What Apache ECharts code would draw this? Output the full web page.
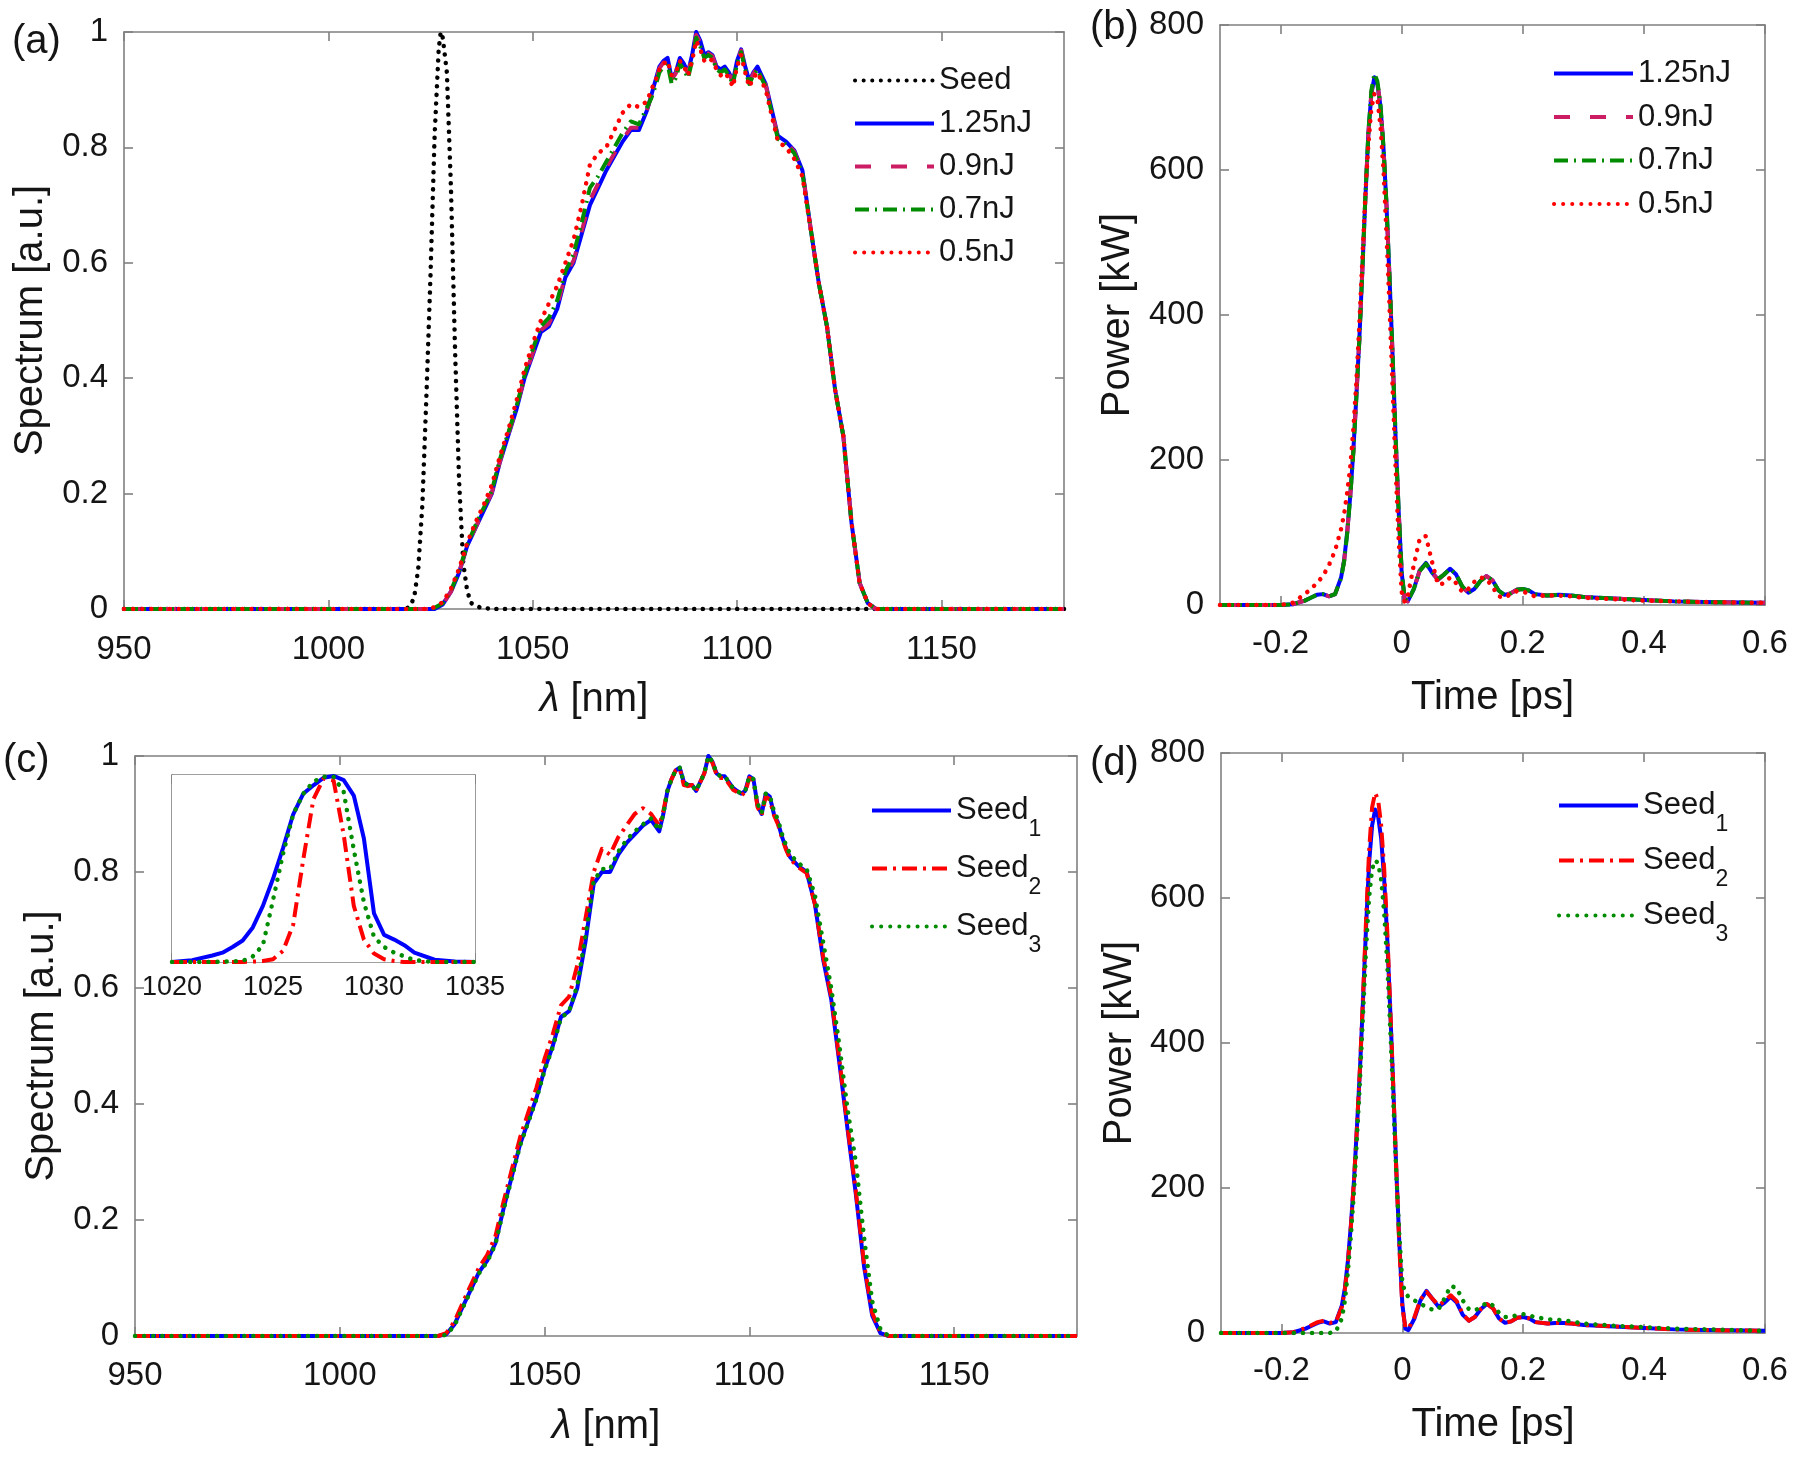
<!DOCTYPE html>
<html><head><meta charset="utf-8">
<script src="https://cdn.jsdelivr.net/npm/echarts@6.0.0/dist/echarts.min.js"></script>
<style>html,body{margin:0;padding:0;background:#fff}#c{width:1800px;height:1457px}</style>
</head><body><div id="c"></div>
<script>
// ---------- DATA ----------
// shared wavelength grid (nm) for panels (a) and (c)
const wl = [950,1000,1024,1026,1028,1030,1032,1034,1036,1038,1040,1042,1044,1046,1048,1050,1052,1054,1056,1058,1060,1062,1064,1066,1068,1070,1072,1074,1076,1078,
  1079,1080,1081,1082,1083,1084,1085,1086,1087,1088,1089,1090,1091,1092,1093,1094,1095,1096,1097,1098,1099,1100,1101,1102,1103,1104,1105,1106,1107,1108,1109,1110,
  1112,1114,1116,1118,1120,1122,1124,1126,1128,1130,1132,1134,1136,1180];
// (a) spectra
const specA125 = [0,0,0,0,0.008,0.03,0.063,0.11,0.14,0.17,0.2,0.255,0.3,0.345,0.4,0.44,0.48,0.49,0.52,0.575,0.6,0.65,0.7,0.73,0.76,0.785,0.81,0.83,0.83,0.865,
  0.89,0.915,0.94,0.95,0.955,0.92,0.93,0.955,0.945,0.93,0.96,1.0,0.985,0.96,0.965,0.96,0.94,0.935,0.94,0.93,0.915,0.95,0.97,0.94,0.915,0.93,0.94,0.925,0.91,0.88,0.85,0.82,
  0.81,0.795,0.76,0.66,0.565,0.49,0.38,0.3,0.15,0.045,0.01,0,0,0];
const specA09 = [0,0,0,0,0.008,0.03,0.064,0.11,0.141,0.171,0.202,0.256,0.302,0.347,0.402,0.443,0.483,0.495,0.525,0.578,0.604,0.655,0.708,0.737,0.765,0.79,0.814,0.834,0.834,0.866,
  0.888,0.912,0.937,0.947,0.952,0.918,0.928,0.952,0.943,0.928,0.957,0.995,0.982,0.958,0.963,0.958,0.938,0.933,0.938,0.928,0.913,0.948,0.968,0.938,0.913,0.928,0.938,0.922,0.908,0.878,0.848,0.818,
  0.808,0.793,0.758,0.66,0.565,0.49,0.38,0.3,0.15,0.045,0.01,0,0,0];
const specA07 = [0,0,0,0.002,0.01,0.032,0.066,0.112,0.145,0.175,0.205,0.26,0.305,0.35,0.405,0.45,0.49,0.505,0.535,0.585,0.615,0.67,0.73,0.75,0.775,0.8,0.825,0.845,0.84,0.87,
  0.885,0.905,0.93,0.94,0.945,0.91,0.92,0.945,0.935,0.92,0.95,0.99,0.975,0.955,0.96,0.955,0.935,0.93,0.935,0.925,0.91,0.945,0.965,0.935,0.91,0.925,0.935,0.92,0.905,0.875,0.845,0.815,
  0.805,0.79,0.755,0.66,0.565,0.49,0.38,0.3,0.15,0.045,0.01,0,0,0];
const specA05 = [0,0,0,0.003,0.012,0.035,0.07,0.115,0.15,0.18,0.215,0.265,0.31,0.36,0.415,0.46,0.5,0.53,0.56,0.6,0.64,0.7,0.77,0.79,0.8,0.83,0.86,0.875,0.87,0.88,
  0.9,0.915,0.935,0.945,0.95,0.925,0.93,0.95,0.94,0.925,0.95,0.985,0.97,0.95,0.955,0.95,0.935,0.925,0.93,0.92,0.905,0.94,0.96,0.93,0.905,0.92,0.93,0.915,0.9,0.87,0.84,0.81,
  0.8,0.78,0.75,0.66,0.565,0.49,0.38,0.3,0.15,0.045,0.01,0,0,0];
// (a) seed spectrum
const seedWl = [950,1015,1019,1020,1021,1022,1023,1024,1025,1026,1027,1027.5,1028,1029,1030,1031,1032,1033,1034,1035,1037,1040,1180];
const seedA  = [0,0,0,0.005,0.02,0.07,0.18,0.37,0.58,0.82,0.97,1.0,0.99,0.93,0.73,0.45,0.22,0.08,0.03,0.01,0.003,0,0];
// (c) spectra
const specC1 = [0,0,0,0.003,0.02,0.05,0.08,0.11,0.13,0.16,0.22,0.275,0.33,0.37,0.41,0.46,0.5,0.55,0.56,0.6,0.68,0.78,0.8,0.8,0.83,0.85,0.865,0.88,0.89,0.87,
  0.9,0.94,0.96,0.975,0.98,0.955,0.95,0.95,0.94,0.955,0.97,1.0,0.99,0.97,0.965,0.965,0.955,0.945,0.94,0.935,0.94,0.965,0.96,0.915,0.9,0.935,0.93,0.9,0.885,0.86,0.84,0.825,
  0.81,0.8,0.745,0.65,0.58,0.47,0.355,0.245,0.12,0.035,0.005,0,0,0];
const specC2 = [0,0,0,0.005,0.025,0.057,0.088,0.118,0.14,0.172,0.232,0.287,0.342,0.385,0.428,0.478,0.52,0.57,0.585,0.64,0.72,0.8,0.84,0.83,0.86,0.88,0.9,0.91,0.9,0.88,
  0.905,0.94,0.96,0.975,0.978,0.95,0.948,0.95,0.94,0.955,0.97,0.998,0.988,0.968,0.962,0.962,0.952,0.942,0.938,0.932,0.938,0.962,0.958,0.912,0.898,0.93,0.925,0.898,0.882,0.858,0.838,0.822,
  0.808,0.798,0.745,0.655,0.585,0.475,0.36,0.25,0.125,0.04,0.006,0,0,0];
const specC3 = [0,0,0,0.002,0.018,0.048,0.078,0.108,0.128,0.158,0.218,0.272,0.328,0.368,0.408,0.458,0.498,0.548,0.56,0.605,0.69,0.785,0.805,0.805,0.835,0.855,0.87,0.882,0.892,0.872,
  0.9,0.94,0.96,0.975,0.98,0.955,0.95,0.95,0.94,0.955,0.97,1.0,0.99,0.97,0.965,0.965,0.955,0.945,0.94,0.935,0.94,0.965,0.96,0.918,0.902,0.935,0.932,0.905,0.89,0.865,0.845,0.83,
  0.815,0.805,0.76,0.68,0.6,0.5,0.39,0.3,0.17,0.06,0.012,0,0,0];
// inset (c): seed spectra
const insWl = [1020,1021,1022,1022.5,1023,1023.5,1024,1024.5,1025,1025.5,1026,1026.5,1027,1027.5,1028,1028.5,1029,1029.5,1030,1030.5,1031,1031.5,1032,1033,1034,1035];
const insS1 = [0,0.01,0.035,0.05,0.08,0.115,0.185,0.3,0.445,0.61,0.79,0.9,0.945,0.985,0.995,0.973,0.89,0.66,0.26,0.145,0.12,0.09,0.05,0.012,0.003,0];
const insS2 = [0,0,0,0,0,0,0.002,0.005,0.015,0.06,0.2,0.55,0.87,0.98,0.97,0.68,0.3,0.12,0.045,0.015,0.005,0,0,0,0,0];
const insS3 = [0,0,0,0.002,0.003,0.006,0.03,0.09,0.33,0.58,0.79,0.9,0.964,0.99,0.99,0.91,0.6,0.32,0.134,0.08,0.05,0.03,0.01,0,0,0];
// time grid (ps) for panels (b) and (d)
const tps = [-0.3,-0.2,-0.18,-0.16,-0.15,-0.14,-0.13,-0.12,-0.11,-0.1,-0.095,-0.09,-0.085,-0.08,-0.075,-0.07,-0.065,-0.06,-0.055,-0.05,-0.045,-0.04,-0.035,-0.03,-0.025,-0.02,-0.015,-0.01,-0.005,0,
  0.005,0.01,0.02,0.03,0.04,0.05,0.06,0.07,0.08,0.09,0.1,0.11,0.12,0.13,0.14,0.15,0.16,0.17,0.18,0.19,0.2,0.21,0.22,0.24,0.26,0.28,0.3,0.35,0.4,0.45,0.5,0.6];
const powB125 = [0,0,1,6,10,14,15,12,15,38,62,100,150,210,285,365,460,560,650,705,728,718,688,630,550,450,345,230,130,45,8,5,22,48,58,45,35,42,50,42,25,17,22,33,40,34,20,14,16,21,22,20,15,13,14,13,11,9,7,5,4,3];
const powB09  = [0,0,1,6,10,14,15,12,15,38,61,99,149,209,284,364,460,561,651,707,730,720,689,631,551,451,346,231,131,46,8,5,22,48,58,45,35,42,50,42,25,17,22,33,40,34,20,14,16,21,22,20,15,13,14,13,11,9,7,5,4,3];
const powB07  = [0,0,1,6,10,14,15,12,15,37,60,98,148,208,283,364,460,562,652,710,733,722,690,632,552,452,347,232,132,47,9,5,22,47,57,46,36,42,50,42,26,17,22,33,40,34,20,14,16,21,22,20,15,13,14,13,11,9,7,5,4,3];
const powB05  = [0,0,3,15,22,30,40,55,75,105,125,155,190,240,305,385,475,565,635,685,705,698,660,600,510,410,300,190,90,18,4,12,55,92,95,60,28,30,38,30,18,22,32,38,36,25,12,10,15,19,19,15,12,13,13,12,10,8,6,5,4,3];
const powD1 = [0,0,1,6,10,14,16,13,15,38,62,100,150,210,285,365,460,560,648,700,722,712,682,625,545,445,340,225,125,40,6,4,20,45,58,47,36,42,50,42,25,17,22,33,40,34,20,14,16,21,22,20,15,13,14,13,11,9,7,5,4,3];
const powD2 = [0,0,1,7,11,15,17,14,15,36,60,98,148,210,285,368,465,570,665,725,745,735,700,640,555,450,340,225,120,35,8,6,22,46,57,47,38,44,52,44,26,17,22,33,40,34,20,14,16,21,22,20,15,13,14,13,11,9,7,5,4,3];
const powD3 = [0,0,0,0,0,0,0,0,2,20,45,85,135,195,270,350,440,530,600,640,652,648,625,580,510,420,320,220,135,70,55,50,45,40,36,32,33,48,65,62,45,33,31,36,42,38,28,22,22,25,26,24,22,19,18,16,13,10,8,6,5,3];
// tick values
const ticksWl = [950,1000,1050,1100,1150];
const ticksSpec = [0,0.2,0.4,0.6,0.8,1];
const ticksT = [-0.2,0,0.2,0.4,0.6];
const ticksP = [0,200,400,600,800];
const ticksIns = [1020,1025,1030,1035];

// ---------- STYLE ----------
const FONT = '"Liberation Sans", Arial, Helvetica, sans-serif';
const AX = '#808080', TXT = '#151515';
const zip = (xs, ys) => xs.map((x, i) => [x, ys[i]]);
const plain = v => String(v);

const grids = [
  {left:124, top:32, width:940, height:577},   // a
  {left:1220, top:25, width:545, height:580},  // b
  {left:135, top:756, width:942, height:580},  // c
  {left:1221, top:753, width:544, height:580}, // d
  {left:172, top:775, width:303, height:187, show:true, backgroundColor:'#fff', borderWidth:0, z:5} // inset
].map(g => Object.assign({outerBoundsMode:'none', containLabel:false}, g));

function xAxes(gi, min, max, ticks, name, nameGap, labelSize, labelMargin, richName) {
  const base = {type:'value', gridIndex:gi, min, max, splitLine:{show:false},
    axisLine:{show:true, onZero:false, lineStyle:{color:AX, width:1.6}},
    axisTick:{show:true, inside:true, length:9, customValues:ticks, lineStyle:{color:AX, width:1.6}}};
  const bottom = Object.assign({}, base, {position:'bottom',
    axisLabel:{show:true, customValues:ticks, formatter:plain, margin:labelMargin, fontSize:labelSize, color:TXT, fontFamily:FONT},
    name:name, nameLocation:'middle', nameGap:nameGap,
    nameTextStyle:{fontSize:40, color:TXT, fontFamily:FONT, rich:richName || {}}});
  const top = Object.assign({}, base, {position:'top', axisLabel:{show:false}});
  return [bottom, top];
}
function yAxes(gi, min, max, ticks, name, nameGap, showTicks) {
  const base = {type:'value', gridIndex:gi, min, max, splitLine:{show:false},
    axisLine:{show:true, onZero:false, lineStyle:{color:AX, width:1.6}},
    axisTick:{show:showTicks, inside:true, length:9, customValues:ticks, lineStyle:{color:AX, width:1.6}}};
  const left = Object.assign({}, base, {position:'left',
    axisLabel:{show:!!name, customValues:ticks, formatter:plain, margin:16, fontSize:33, color:TXT, fontFamily:FONT},
    name:name || '', nameLocation:'middle', nameGap:nameGap,
    nameTextStyle:{fontSize:40, color:TXT, fontFamily:FONT}});
  const right = Object.assign({}, base, {position:'right', axisLabel:{show:false}});
  return [left, right];
}
const lamRich = {i:{fontStyle:'italic', fontSize:40, color:TXT, fontFamily:FONT}};
const xAxis = [
  ...xAxes(0, 950, 1180, ticksWl, '{i|λ} [nm]', 71, 33, 24, lamRich),
  ...xAxes(1, -0.3, 0.6, ticksT, 'Time [ps]', 73, 33, 22),
  ...xAxes(2, 950, 1180, ticksWl, '{i|λ} [nm]', 71, 33, 23, lamRich),
  ...xAxes(3, -0.3, 0.6, ticksT, 'Time [ps]', 72, 33, 21),
  ...xAxes(4, 1020, 1035, ticksIns, '', 0, 27, 12)
];
const yAxis = [
  ...yAxes(0, 0, 1, ticksSpec, 'Spectrum [a.u.]', 69, true),
  ...yAxes(1, 0, 800, ticksP, 'Power [kW]', 82, true),
  ...yAxes(2, 0, 1, ticksSpec, 'Spectrum [a.u.]', 72, true),
  ...yAxes(3, 0, 800, ticksP, 'Power [kW]', 81, true),
  ...yAxes(4, 0, 1, [], '', 0, false)
];

const ST = {
  blue:  {color:'#0000ff', width:4, type:'solid'},
  pink:  {color:'#cc1c63', width:4, type:[16,20]},
  greenDD: {color:'#008c00', width:4, type:[14,6,2,6]},
  redDot: {color:'#ff0000', width:4.5, type:[0.1,9], cap:'round'},
  blackDot: {color:'#000000', width:4.5, type:[0.1,8.5], cap:'round'},
  redDD: {color:'#ff0000', width:4, type:[15,6,3,6]},
  greenDot: {color:'#008c00', width:4.5, type:[0.1,9], cap:'round'}
};
function ln(name, gi, xs, ys, st, z) {
  return {type:'line', name, xAxisIndex:gi*2, yAxisIndex:gi*2, data:zip(xs, ys),
    symbol:'none', showSymbol:false, silent:true, z:z || 2,
    lineStyle:Object.assign({join:'round'}, st), itemStyle:{color:st.color}};
}
const series = [
  ln('Seed', 0, seedWl, seedA, ST.blackDot, 2),
  ln('1.25nJ', 0, wl, specA125, ST.blue, 3),
  ln('0.9nJ', 0, wl, specA09, ST.pink, 4),
  ln('0.7nJ', 0, wl, specA07, ST.greenDD, 5),
  ln('0.5nJ', 0, wl, specA05, ST.redDot, 6),
  ln('1.25nJ', 1, tps, powB125, ST.blue, 3),
  ln('0.9nJ', 1, tps, powB09, ST.pink, 4),
  ln('0.7nJ', 1, tps, powB07, ST.greenDD, 5),
  ln('0.5nJ', 1, tps, powB05, ST.redDot, 6),
  ln('Seed1', 2, wl, specC1, ST.blue, 3),
  ln('Seed2', 2, wl, specC2, ST.redDD, 4),
  ln('Seed3', 2, wl, specC3, ST.greenDot, 5),
  ln('Seed1', 3, tps, powD1, ST.blue, 3),
  ln('Seed2', 3, tps, powD2, ST.redDD, 4),
  ln('Seed3', 3, tps, powD3, ST.greenDot, 5),
  ln('Seed1', 4, insWl, insS1, ST.blue, 7),
  ln('Seed2', 4, insWl, insS2, ST.redDD, 8),
  ln('Seed3', 4, insWl, insS3, ST.greenDot, 9)
];

const legText = {fontSize:31, color:TXT, fontFamily:FONT};
const subRich = {
  n:{fontSize:31, color:TXT, fontFamily:FONT, verticalAlign:'middle'},
  s:{fontSize:23, color:TXT, fontFamily:FONT, verticalAlign:'middle', padding:[38,0,0,0]}
};
function legend(names, left, top, gap, sub) {
  return {show:true, orient:'vertical', left, top, padding:0, itemGap:gap, itemWidth:79, itemHeight:14,
    selectedMode:false, data:names,
    lineStyle:{width:4, opacity:1},
    itemStyle:{opacity:0, color:'rgba(0,0,0,0)', borderWidth:0},
    textStyle: sub ? Object.assign({}, legText, {rich:subRich}) : legText,
    formatter: sub ? (n => '{n|Seed}{s|' + n.slice(4) + '}') : (n => n)};
}
const legends = [
  legend(['Seed','1.25nJ','0.9nJ','0.7nJ','0.5nJ'], 853, 65, 12, false),
  legend(['1.25nJ','0.9nJ','0.7nJ','0.5nJ'], 1552, 58, 12.5, false),
  legend(['Seed1','Seed2','Seed3'], 870, 795, 12, true),
  legend(['Seed1','Seed2','Seed3'], 1557, 790, 9, true)
];

const panelLbl = (t, x, y) => ({type:'text', left:x, top:y, silent:true,
  style:{text:t, fontSize:40, fill:TXT, fontFamily:FONT}});
const option = {
  animation:false,
  backgroundColor:'#ffffff',
  grid:grids, xAxis, yAxis, series, legend:legends,
  graphic:[panelLbl('(a)', 12, 22), panelLbl('(b)', 1090, 8), panelLbl('(c)', 3, 741), panelLbl('(d)', 1090, 744)]
};
const chart = echarts.init(document.getElementById('c'), null, {renderer:'canvas', width:1800, height:1457});
chart.setOption(option);
</script></body></html>
